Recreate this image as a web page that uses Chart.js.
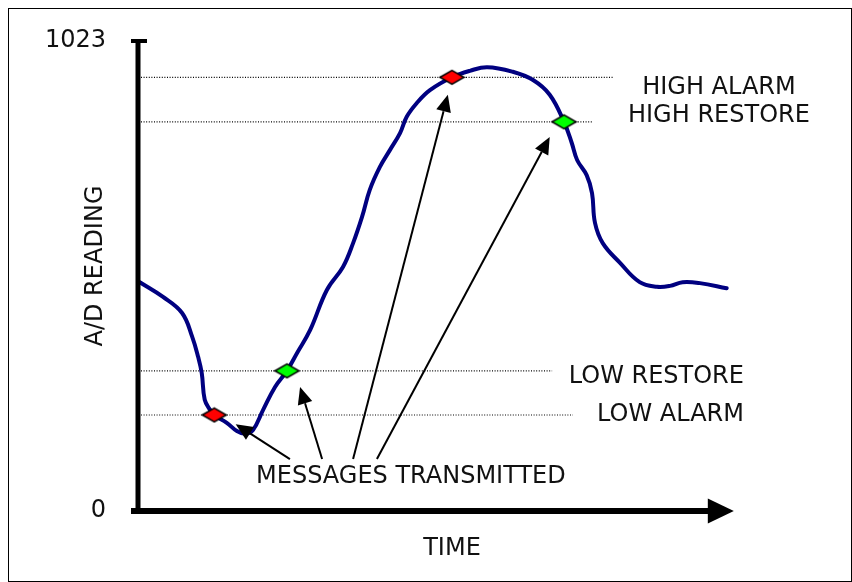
<!DOCTYPE html>
<html>
<head>
<meta charset="utf-8">
<script src="https://cdn.jsdelivr.net/npm/chart.js@4.4.0/dist/chart.umd.min.js"></script>
<style>
  html, body { margin: 0; padding: 0; background: #fff; }
  #wrap { width: 852px; height: 582px; }
</style>
</head>
<body>
<div id="wrap"><canvas id="adChart" width="852" height="582"></canvas></div>
<script>
// A/D reading against time (time in arbitrary units, reading in counts)
const time = [0.3, 4.2, 7.4, 9.1, 10.1, 10.7, 11.2, 12.1, 12.8, 14.9, 16.6, 18.0, 19.3, 21.0, 23.0, 25.0,
  26.7, 28.9, 31.7, 34.4, 36.1, 37.6, 38.9, 40.6, 42.3, 44.0, 45.1, 46.8, 49.0, 52.7, 55.7, 58.6,
  62.9, 66.3, 69.1, 71.5, 72.8, 73.7, 75.3, 76.2, 76.7, 78.0, 80.9, 84.2, 87.1, 89.3, 91.4, 94.3, 98.8];
const reading = [498, 466, 431, 379, 335, 300, 242, 220, 209, 192, 174, 168, 176, 220, 270, 305,
  344, 394, 481, 531, 583, 640, 699, 749, 786, 823, 858, 888, 916, 944, 958, 966,
  956, 938, 906, 847, 801, 764, 731, 692, 627, 583, 540, 498, 488, 490, 498, 496, 485];

// thresholds
const levelNames = ['HIGH ALARM', 'HIGH RESTORE', 'LOW RESTORE', 'LOW ALARM'];
const levelValues = [944, 847, 305, 209];
const levelEnds = [79.7, 76.2, 69.5, 73.0];

// messages sent (red = alarm, green = restore)
const alarmTimes = [12.8, 52.7];
const alarmValues = [209, 944];
const restoreTimes = [25.0, 71.5];
const restoreValues = [305, 847];

// arrows from the note to the messages
const arrowFrom = [[25.5, 113], [30.9, 113], [36.1, 113], [40.1, 113]];
const arrowTo = [[16.4, 189], [27.2, 270], [52.0, 906], [69.1, 814]];
const noteText = 'MESSAGES TRANSMITTED';
const notePos = [45.8, 74];

const yTicks = [0, 1023];
const axisEnd = 100;

// where the level labels sit (time, alignment, pixel shift)
const levelLabelPos = [
  { t: 97.5, align: 'center', dy: 10 },
  { t: 97.5, align: 'center', dy: -6 },
  { t: 101.7, align: 'right', dy: 5.5 },
  { t: 101.7, align: 'right', dy: 0 }
];

const FONT = '"DejaVu Sans", Verdana, sans-serif';
Chart.defaults.font.family = FONT;

function diamond(fill) {
  const c = document.createElement('canvas');
  c.width = 27; c.height = 17;
  const g = c.getContext('2d');
  g.beginPath();
  g.moveTo(1.5, 8.5); g.lineTo(13.5, 1.5); g.lineTo(25.5, 8.5); g.lineTo(13.5, 15.5);
  g.closePath();
  g.fillStyle = fill; g.fill();
  g.lineWidth = 1.5; g.strokeStyle = '#000'; g.stroke();
  return c;
}

const toPts = (xs, ys) => xs.map((v, i) => ({ x: v, y: ys[i] }));

const datasets = [
  { label: 'alarm', data: toPts(alarmTimes, alarmValues), showLine: false,
    pointStyle: diamond('#ff0000'), pointRadius: 12 },
  { label: 'restore', data: toPts(restoreTimes, restoreValues), showLine: false,
    pointStyle: diamond('#00ff00'), pointRadius: 12 },
  { label: 'reading', data: toPts(time, reading), borderColor: '#000080', borderWidth: 4,
    pointRadius: 0, tension: 0.4, borderCapStyle: 'round' }
];
levelNames.forEach((n, i) => {
  datasets.push({ label: n, data: [{ x: 0.5, y: levelValues[i] }, { x: levelEnds[i], y: levelValues[i] }],
    borderColor: '#000', borderWidth: 1.2, borderDash: [1, 1.6], pointRadius: 0 });
});

const overlay = {
  id: 'overlay',
  beforeDraw(chart) {
    const ctx = chart.ctx;
    ctx.save();
    ctx.strokeStyle = '#000';
    ctx.lineWidth = 1;
    ctx.strokeRect(8.5, 8.5, 843, 573);
    ctx.restore();
  },
  afterDatasetsDraw(chart) {
    const { ctx, scales: { x, y } } = chart;
    const x0 = x.getPixelForValue(0), y0 = y.getPixelForValue(0);
    const yTop = y.getPixelForValue(yTicks[1]);
    const tip = x.getPixelForValue(axisEnd);
    ctx.save();
    ctx.strokeStyle = '#000';
    ctx.fillStyle = '#000';
    // y axis with cap
    ctx.lineWidth = 5;
    ctx.beginPath(); ctx.moveTo(x0, yTop - 2); ctx.lineTo(x0, y0); ctx.stroke();
    ctx.lineWidth = 4;
    ctx.beginPath(); ctx.moveTo(x0 - 7, yTop); ctx.lineTo(x0 + 9, yTop); ctx.stroke();
    // x axis with arrow
    ctx.lineWidth = 6;
    ctx.beginPath(); ctx.moveTo(x0 - 7, y0); ctx.lineTo(tip - 25, y0); ctx.stroke();
    ctx.beginPath(); ctx.moveTo(tip, y0); ctx.lineTo(tip - 26, y0 - 12.5); ctx.lineTo(tip - 26, y0 + 12.5);
    ctx.closePath(); ctx.fill();

    // annotation arrows
    ctx.lineWidth = 2;
    arrowFrom.forEach((f, i) => {
      const sx = x.getPixelForValue(f[0]), sy = y.getPixelForValue(f[1]);
      const ex = x.getPixelForValue(arrowTo[i][0]), ey = y.getPixelForValue(arrowTo[i][1]);
      const a = Math.atan2(ey - sy, ex - sx);
      const L = 17, W = 7.5;
      const bx = ex - L * Math.cos(a), by = ey - L * Math.sin(a);
      ctx.beginPath(); ctx.moveTo(sx, sy); ctx.lineTo(bx, by); ctx.stroke();
      ctx.beginPath();
      ctx.moveTo(ex, ey);
      ctx.lineTo(bx + W * Math.sin(a), by - W * Math.cos(a));
      ctx.lineTo(bx - W * Math.sin(a), by + W * Math.cos(a));
      ctx.closePath(); ctx.fill();
    });

    // texts
    ctx.font = '24px ' + FONT;
    ctx.fillStyle = '#111';
    ctx.textBaseline = 'middle';
    ctx.textAlign = 'center';
    ctx.fillText(noteText, x.getPixelForValue(notePos[0]), y.getPixelForValue(notePos[1]));
    levelNames.forEach((n, i) => {
      const p = levelLabelPos[i];
      ctx.textAlign = p.align;
      ctx.fillText(n, x.getPixelForValue(p.t), y.getPixelForValue(levelValues[i]) + p.dy);
    });
    ctx.restore();
  }
};

new Chart(document.getElementById('adChart'), {
  type: 'line',
  data: { datasets },
  plugins: [overlay],
  options: {
    responsive: false,
    animation: false,
    layout: { padding: { top: 21, right: 86, left: 0, bottom: 0 } },
    plugins: { legend: { display: false }, tooltip: { enabled: false } },
    scales: {
      x: {
        type: 'linear', min: 0, max: 105.4,
        ticks: { display: false },
        grid: { display: false, drawTicks: false },
        border: { display: false },
        title: { display: true, text: 'TIME', color: '#111', font: { size: 24 }, padding: { top: 0, bottom: 18.6 } },
        afterFit(s) { s.height = 71; s.paddingLeft = 0; s.paddingRight = 0; }
      },
      y: {
        type: 'linear', min: 0, max: 1066.5,
        afterBuildTicks(s) { s.ticks = yTicks.map(v => ({ value: v })); },
        ticks: { color: '#111', font: { size: 24 }, padding: 32, autoSkip: false, callback: v => String(v) },
        grid: { display: false, drawTicks: false, tickLength: 0 },
        border: { display: false },
        title: { display: true, text: 'A/D READING', color: '#111', font: { size: 24 }, padding: { top: 81.6, bottom: 0 } },
        afterFit(s) { s.width = 138; s.paddingTop = 0; s.paddingBottom = 0; }
      }
    }
  }
});
</script>
</body>
</html>
